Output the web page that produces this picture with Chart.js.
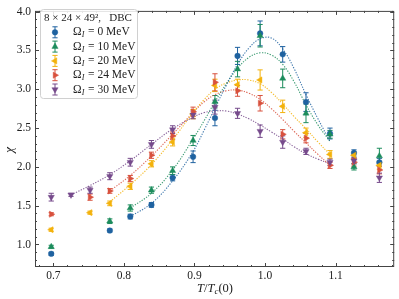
<!DOCTYPE html>
<html><head><meta charset="utf-8">
<script src="https://cdn.jsdelivr.net/npm/chart.js@4.4.1/dist/chart.umd.min.js"></script>
<style>html,body{margin:0;padding:0;background:#fff;}canvas{display:block;}</style>
</head><body>
<canvas id="c" width="399" height="299"></canvas>
<script>
// ---- data ----
const T = [0.697,0.725,0.752,0.780,0.809,0.839,0.869,0.898,0.929,0.961,0.993,1.025,1.058,1.092,1.126,1.162];
const chi0  = [0.88,null,null,1.18,1.36,1.51,1.86,2.13,2.63,3.43,3.72,3.45,2.835,2.43,2.18,2.06];
const err0  = [0.02,null,null,0.02,0.03,0.03,0.04,0.075,0.10,0.11,0.16,0.10,0.12,0.07,0.04,0.05];
const chi10 = [0.97,null,null,1.30,1.47,1.70,1.95,2.34,2.84,3.26,3.69,3.14,2.69,2.42,2.00,2.14];
const err10 = [0.02,null,null,0.03,0.04,0.04,0.05,0.065,0.08,0.10,0.145,0.12,0.12,0.05,0.04,0.10];
const chi20 = [1.19,null,1.41,1.53,1.75,2.04,2.32,2.68,3.05,3.06,3.12,2.78,2.44,2.16,2.15,2.02];
const err20 = [0.02,null,0.02,0.03,0.04,0.04,0.05,0.06,0.08,0.07,0.13,0.08,0.06,0.05,0.04,0.05];
const chi24 = [1.39,null,1.61,1.69,1.85,2.15,2.40,2.71,3.09,2.98,2.82,2.42,2.37,2.02,2.06,1.96];
const err24 = [0.02,null,0.04,0.03,0.04,0.04,0.05,0.06,0.11,0.07,0.10,0.06,0.06,0.04,0.05,0.05];
const chi30 = [1.61,1.64,1.70,1.88,2.06,2.29,2.48,2.67,2.77,2.69,2.46,2.32,2.20,2.06,2.08,1.86];
const err30 = [0.05,0.02,0.04,0.045,0.05,0.05,0.05,0.05,0.09,0.065,0.08,0.08,0.04,0.04,0.04,0.06];

// fit curves
const fitT  = [0.725,0.752,0.780,0.809,0.839,0.869,0.898,0.914,0.929,0.945,0.961,0.977,0.993,1.009,1.025,1.041,1.058,1.075,1.092];
const fit0  = [null,null,null,1.36,1.53,1.82,2.20,2.48,2.76,3.05,3.32,3.53,3.65,3.66,3.52,3.27,2.93,2.62,2.33];
const fit10 = [null,null,null,1.47,1.66,1.96,2.36,2.60,2.84,3.07,3.27,3.41,3.47,3.44,3.32,3.10,2.80,2.54,2.33];
const fit20 = [null,null,1.55,1.77,2.03,2.35,2.70,2.87,3.00,3.08,3.12,3.12,3.07,2.96,2.81,2.65,2.49,2.32,2.16];
const fit24 = [null,null,1.69,1.89,2.14,2.42,2.70,2.84,2.93,2.98,2.99,2.95,2.87,2.75,2.61,2.46,2.31,2.16,2.02];
const fit30 = [1.64,1.76,1.90,2.08,2.29,2.49,2.64,2.70,2.72,2.72,2.68,2.62,2.54,2.45,2.36,2.26,2.17,2.10,2.04];

const seriesLabels = ['0','10','20','24','30'];
const legendTitle = '8 × 24 × 49²,   DBC';
const xTicks = [0.7,0.8,0.9,1.0,1.1];
const yTicks = [1.0,1.5,2.0,2.5,3.0,3.5,4.0];

const colors = ['#1f62a0','#1c8c5c','#f3b20c','#d8513d','#764a8b'];
const styles = [
  {ps:'circle', rot:0, r:2.8},
  {ps:'triangle', rot:0, r:3.6},
  {ps:'triangle', rot:-90, r:3.6},
  {ps:'triangle', rot:90, r:3.6},
  {ps:'triangle', rot:180, r:3.6}
];
const ys = [chi0,chi10,chi20,chi24,chi30];
const es = [err0,err10,err20,err24,err30];
const fits = [fit0,fit10,fit20,fit24,fit30];

function pts(xs, vs){ const o=[]; xs.forEach((x,i)=>{ if(vs[i]!==null) o.push({x:x,y:vs[i]}); }); return o; }
function alpha(hex,a){ const n=parseInt(hex.slice(1),16); return `rgba(${n>>16},${(n>>8)&255},${n&255},${a})`; }

const datasets = [];
fits.forEach((f,i)=>{
  datasets.push({type:'line', data:pts(fitT,f), borderColor:alpha(colors[i],0.85), borderWidth:1.1,
    borderDash:[1.3,1.4], pointRadius:0, tension:0.4, fill:false, order:10});
});
ys.forEach((y,i)=>{
  datasets.push({type:'scatter', data:pts(T,y), errs:es[i].filter(v=>v!==null), isData:true,
    pointStyle:styles[i].ps, pointRotation:styles[i].rot, pointRadius:styles[i].r,
    backgroundColor:colors[i], borderColor:alpha(colors[i],0.55), borderWidth:0.8, order:5-i});
});

const SERIF = "'Liberation Serif','DejaVu Serif',serif";

const errPlugin = {
  id:'errbars',
  beforeDatasetsDraw(chart){
    const ctx=chart.ctx, xs=chart.scales.x, yS=chart.scales.y;
    chart.data.datasets.forEach((ds,di)=>{
      if(!ds.isData) return;
      const c = ds.backgroundColor;
      ctx.save(); ctx.strokeStyle=c; ctx.lineWidth=1;
      ds.data.forEach((p,j)=>{
        const e=ds.errs[j]; const px=xs.getPixelForValue(p.x);
        const y1=yS.getPixelForValue(p.y-e), y2=yS.getPixelForValue(p.y+e);
        ctx.beginPath(); ctx.moveTo(px,y1); ctx.lineTo(px,y2);
        ctx.moveTo(px-2.6,y1); ctx.lineTo(px+2.6,y1);
        ctx.moveTo(px-2.6,y2); ctx.lineTo(px+2.6,y2);
        ctx.stroke();
      });
      ctx.restore();
    });
  }
};

const framePlugin = {
  id:'frame',
  afterDraw(chart){
    const ctx=chart.ctx, a=chart.chartArea, xs=chart.scales.x, yS=chart.scales.y;
    ctx.save();
    ctx.strokeStyle='#444'; ctx.lineWidth=1;
    ctx.strokeRect(a.left+0.5,a.top+0.5,a.right-a.left-1,a.bottom-a.top-1);
    ctx.beginPath();
    // x ticks
    for(let k=0;k<=60;k++){
      const v=0.6+k*0.02; if(v<xs.min||v>xs.max) continue;
      const major = Math.abs(v*10-Math.round(v*10))<1e-6;
      const L = major?4:2; const px=Math.round(xs.getPixelForValue(v))+0.5;
      ctx.moveTo(px,a.bottom); ctx.lineTo(px,a.bottom-L);
      ctx.moveTo(px,a.top); ctx.lineTo(px,a.top+L);
    }
    for(let k=0;k<=50;k++){
      const v=0.5+k*0.1; if(v<yS.min||v>yS.max) continue;
      const major = Math.abs(v*2-Math.round(v*2))<1e-6;
      const L = major?4:2; const py=Math.round(yS.getPixelForValue(v))+0.5;
      ctx.moveTo(a.left,py); ctx.lineTo(a.left+L,py);
      ctx.moveTo(a.right,py); ctx.lineTo(a.right-L,py);
    }
    ctx.stroke();

    // axis labels
    ctx.fillStyle='#222';
    ctx.textBaseline='middle';
    ctx.save();
    ctx.translate(10,150); ctx.rotate(-Math.PI/2);
    ctx.font="italic 13px "+SERIF; ctx.textAlign='center';
    ctx.fillText('χ',0,0);
    ctx.restore();
    // x label T/T_c(0)
    ctx.textAlign='left';
    const parts=[{t:'T',f:'italic 12.5px '+SERIF,dy:0},{t:'/',f:'12.5px '+SERIF,dy:0},{t:'T',f:'italic 12.5px '+SERIF,dy:0},{t:'c',f:'italic 9px '+SERIF,dy:3},{t:'(0)',f:'12.5px '+SERIF,dy:0}];
    let w=0; parts.forEach(p=>{ctx.font=p.f; w+=ctx.measureText(p.t).width;});
    let x=215-w/2;
    parts.forEach(p=>{ctx.font=p.f; ctx.fillText(p.t,x,289+p.dy); x+=ctx.measureText(p.t).width;});

    // legend
    const bx=40.5, by=9.5, bw=97, bh=89;
    ctx.beginPath();
    const r=3;
    ctx.moveTo(bx+r,by); ctx.lineTo(bx+bw-r,by); ctx.quadraticCurveTo(bx+bw,by,bx+bw,by+r);
    ctx.lineTo(bx+bw,by+bh-r); ctx.quadraticCurveTo(bx+bw,by+bh,bx+bw-r,by+bh);
    ctx.lineTo(bx+r,by+bh); ctx.quadraticCurveTo(bx,by+bh,bx,by+bh-r);
    ctx.lineTo(bx,by+r); ctx.quadraticCurveTo(bx,by,bx+r,by); ctx.closePath();
    ctx.fillStyle='rgba(255,255,255,0.85)'; ctx.fill();
    ctx.strokeStyle='#d0d0d0'; ctx.lineWidth=1; ctx.stroke();
    ctx.fillStyle='#222';
    ctx.font='11px '+SERIF; ctx.textAlign='left';
    ctx.fillText(legendTitle,44,18.5);
    seriesLabels.forEach((lab,i)=>{
      const cy=32.3+i*14.3, mx=55;
      ctx.strokeStyle=colors[i]; ctx.lineWidth=1;
      ctx.beginPath();
      ctx.moveTo(mx,cy-5.5); ctx.lineTo(mx,cy+5.5);
      ctx.moveTo(mx-2.6,cy-5.5); ctx.lineTo(mx+2.6,cy-5.5);
      ctx.moveTo(mx-2.6,cy+5.5); ctx.lineTo(mx+2.6,cy+5.5);
      ctx.stroke();
      ctx.fillStyle=colors[i]; ctx.strokeStyle=alpha(colors[i],0.55); ctx.lineWidth=0.8;
      Chart.helpers.drawPoint(ctx,{pointStyle:styles[i].ps,rotation:styles[i].rot,radius:styles[i].r,borderWidth:0.8},mx,cy);
      ctx.fillStyle='#222';
      let tx=73;
      ctx.font='11.5px '+SERIF; ctx.fillText('Ω',tx,cy); tx+=ctx.measureText('Ω').width;
      ctx.font='italic 8px '+SERIF; ctx.fillText('I',tx+0.3,cy+3); tx+=ctx.measureText('I').width+1;
      ctx.font='11.5px '+SERIF; ctx.fillText(' = '+lab+' MeV',tx,cy);
    });
    ctx.restore();
  }
};

new Chart(document.getElementById('c'),{
  type:'scatter',
  data:{datasets:datasets},
  plugins:[errPlugin,framePlugin],
  options:{
    responsive:false, animation:false, devicePixelRatio:1,
    layout:{padding:{left:0,right:4,top:5,bottom:0}},
    plugins:{legend:{display:false},tooltip:{enabled:false}},
    scales:{
      x:{type:'linear',min:0.674,max:1.183,
        grid:{display:false,drawTicks:false}, border:{display:false},
        afterBuildTicks(s){ s.ticks = xTicks.map(v=>({value:v})); },
        afterFit(s){ s.height=32; },
        ticks:{padding:2,color:'#222',font:{family:SERIF,size:11.5},maxRotation:0,callback:v=>Number(v).toFixed(1)}},
      y:{type:'linear',min:0.71,max:4.01,
        grid:{display:false,drawTicks:false}, border:{display:false},
        afterBuildTicks(s){ s.ticks = yTicks.map(v=>({value:v})); },
        afterFit(s){ s.width=35; },
        ticks:{padding:4,color:'#222',font:{family:SERIF,size:11.5},callback:v=>Number(v).toFixed(1)}}
    }
  }
});
</script>
</body></html>
